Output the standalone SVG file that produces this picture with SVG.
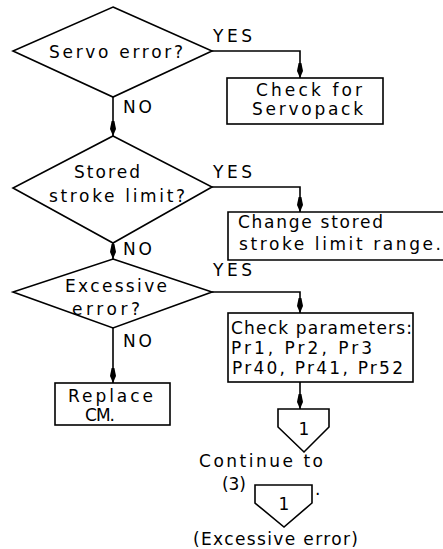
<svg xmlns="http://www.w3.org/2000/svg" width="443" height="549" viewBox="0 0 443 549">
  <style>
    .shape { fill: none; stroke: #000; stroke-width: 1.6; stroke-linejoin: miter; }
    .wire { fill: none; stroke: #000; stroke-width: 1.6; }
    text { font-family: "DejaVu Sans", "Liberation Sans", sans-serif; font-size: 17px; fill: #000; }
  </style>
  <defs>
    <marker id="arrow" markerWidth="16" markerHeight="8" refX="0" refY="0" markerUnits="userSpaceOnUse" orient="auto" overflow="visible">
      <!-- slim spindle head, tip at the line end -->
      <path d="M0,0 L-7,-3 L-15,-1.4 L-15,1.4 L-7,3 Z" fill="#000"/>
    </marker>
  </defs>
  <rect width="443" height="549" fill="#fff"/>

  <!-- connectors -->
  <g id="connectors">
    <polyline class="wire" points="212,51 300,51 300,78" marker-end="url(#arrow)"/>
    <line class="wire" x1="113" y1="97" x2="113" y2="136" marker-end="url(#arrow)"/>
    <polyline class="wire" points="212,187 300,187 300,212" marker-end="url(#arrow)"/>
    <line class="wire" x1="113" y1="243" x2="113" y2="259" marker-end="url(#arrow)"/>
    <polyline class="wire" points="212,292 300,292 300,313" marker-end="url(#arrow)"/>
    <line class="wire" x1="113" y1="328" x2="113" y2="383" marker-end="url(#arrow)"/>
    <line class="wire" x1="300" y1="382" x2="300" y2="409" marker-end="url(#arrow)"/>
  </g>

  <!-- decision: servo error -->
  <g id="servo-error">
    <polygon class="shape" points="113,7 212,51 113,97 13,51"/>
    <text x="49" y="58" textLength="134" lengthAdjust="spacing">Servo error?</text>
    <text x="213" y="42" textLength="39" lengthAdjust="spacing">YES</text>
    <text x="123" y="113" textLength="29" lengthAdjust="spacing">NO</text>
  </g>

  <g id="check-servopack">
    <rect class="shape" x="227" y="78" width="156" height="46"/>
    <text x="256" y="96" textLength="106" lengthAdjust="spacing">Check for</text>
    <text x="252" y="115" textLength="111" lengthAdjust="spacing">Servopack</text>
  </g>

  <!-- decision: stored stroke limit -->
  <g id="stroke-limit">
    <polygon class="shape" points="113,136 212,187 113,243 13,188"/>
    <text x="74" y="178" textLength="66" lengthAdjust="spacing">Stored</text>
    <text x="49" y="202" textLength="136" lengthAdjust="spacing">stroke limit?</text>
    <text x="213" y="178" textLength="39" lengthAdjust="spacing">YES</text>
    <text x="123" y="255" textLength="29" lengthAdjust="spacing">NO</text>
  </g>

  <g id="change-range">
    <polyline class="shape" points="443,212 228,212 228,260 443,260"/>
    <text x="238" y="228" textLength="145" lengthAdjust="spacing">Change stored</text>
    <text x="239" y="250" textLength="202" lengthAdjust="spacing">stroke limit range.</text>
  </g>

  <!-- decision: excessive error -->
  <g id="excessive-error">
    <polygon class="shape" points="113,259 212,292 113,328 13,292"/>
    <text x="65" y="292" textLength="102" lengthAdjust="spacing">Excessive</text>
    <text x="72" y="315" textLength="68" lengthAdjust="spacing">error?</text>
    <text x="213" y="276" textLength="39" lengthAdjust="spacing">YES</text>
    <text x="123" y="347" textLength="29" lengthAdjust="spacing">NO</text>
  </g>

  <g id="check-parameters">
    <rect class="shape" x="228" y="313" width="185" height="69"/>
    <text x="231" y="334" textLength="181" lengthAdjust="spacing">Check parameters:</text>
    <text x="231" y="354" textLength="141" lengthAdjust="spacing">Pr1, Pr2, Pr3</text>
    <text x="232" y="374" textLength="171" lengthAdjust="spacing">Pr40, Pr41, Pr52</text>
  </g>

  <g id="replace-cm">
    <rect class="shape" x="55" y="383" width="115" height="42"/>
    <text x="68" y="402" textLength="85" lengthAdjust="spacing">Replace</text>
    <text x="85" y="421" textLength="30" lengthAdjust="spacing">CM.</text>
  </g>

  <!-- off-page connector -->
  <g id="offpage-1">
    <polygon class="shape" points="278,409 329,409 329,427 304,452 278,427"/>
    <text x="304" y="435" text-anchor="middle">1</text>
  </g>

  <g id="continue-note">
    <text x="199" y="467" textLength="124" lengthAdjust="spacing">Continue to</text>
    <text x="222" y="490" textLength="24" lengthAdjust="spacing">(3)</text>
    <polygon class="shape" points="255,485 312,485 312,503 284,527 255,503"/>
    <text x="284" y="510" text-anchor="middle">1</text>
    <text x="315" y="495">.</text>
    <text x="193" y="545" textLength="165" lengthAdjust="spacing">(Excessive error)</text>
  </g>
</svg>
